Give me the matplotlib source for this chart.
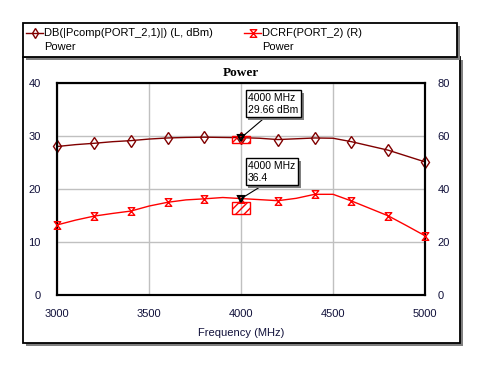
import numpy as np
import matplotlib
matplotlib.use("Agg")
import matplotlib.pyplot as plt
from matplotlib.path import Path
from matplotlib.patches import Rectangle
from matplotlib.lines import Line2D
import matplotlib.transforms as mtransforms
import matplotlib.patheffects as pe

# ---------------- data ----------------
freq_mhz = [3000, 3100, 3200, 3300, 3400, 3500, 3600, 3700, 3800, 3900, 4000,
            4100, 4200, 4300, 4400, 4500, 4600, 4700, 4800, 4900, 5000]
pcomp_dbm = [28.0, 28.35, 28.6, 28.9, 29.1, 29.4, 29.6, 29.7, 29.75, 29.7, 29.66,
             29.55, 29.3, 29.45, 29.6, 29.55, 28.9, 28.1, 27.3, 26.2, 25.1]
dcrf = [26.5, 28.3, 29.8, 30.8, 31.7, 33.6, 35.0, 35.9, 36.3, 36.8, 36.4,
        36.0, 35.6, 36.5, 38.0, 38.0, 35.5, 32.7, 29.9, 26.2, 22.4]
marker_freq = 4000
marker_pcomp = 29.66
marker_dcrf = 36.4
x_ticks = [3000, 3500, 4000, 4500, 5000]
yl_ticks = [0, 10, 20, 30, 40]
yr_ticks = [0, 20, 40, 60, 80]
legend_1 = "DB(|Pcomp(PORT_2,1)|) (L, dBm)"
legend_2 = "DCRF(PORT_2) (R)"
legend_sub = "Power"
title = "Power"
xlabel = "Frequency (MHz)"

DARK = "#800000"
RED = "#ff0000"
SANS = "Liberation Sans"
SERIF = "Liberation Serif"
TICKC = "#10103a"

W, H = 484, 368
fig = plt.figure(figsize=(W / 100, H / 100), dpi=100)

def fx(px):
    return px / W

def fy(py):
    return 1 - py / H

# outer boxes with shadow
def shadow_box(x0, y0, x1, y1, z):
    sh = Rectangle((fx(x0 + 3), fy(y1 + 3)), fx(x1 - x0), (y1 - y0) / H,
                   transform=fig.transFigure, facecolor="#808080", edgecolor="none", zorder=z)
    bx = Rectangle((fx(x0), fy(y1)), fx(x1 - x0), (y1 - y0) / H,
                   transform=fig.transFigure, facecolor="white", edgecolor="black",
                   linewidth=1.3, zorder=z + 0.1)
    fig.add_artist(sh)
    fig.add_artist(bx)

shadow_box(22.5, 57, 460, 343, 0)
shadow_box(22.5, 22.7, 457, 56.5, 0.5)

# hourglass marker
hourglass = Path([(-0.85, 1), (0.85, 1), (-0.85, -1), (0.85, -1), (-0.85, 1)],
                 [Path.MOVETO, Path.LINETO, Path.LINETO, Path.LINETO, Path.CLOSEPOLY])
MS = 5.5

# legend
for (x0, x1, col, mk, label) in [(26, 43, DARK, "d", legend_1),
                                 (244, 261, RED, hourglass, legend_2)]:
    fig.add_artist(Line2D([fx(x0), fx(x1)], [fy(33), fy(33)], transform=fig.transFigure,
                          color=col, lw=1, zorder=2))
    fig.add_artist(Line2D([fx((x0 + x1) / 2)], [fy(33)], transform=fig.transFigure,
                          color=col, marker=mk, ms=MS, mfc="none", mec=col, mew=1, zorder=2))
    fig.text(fx(x1 + 1.5), fy(33), label, fontsize=8, family=SANS, color="black",
             va="center", ha="left", zorder=3)
    fig.text(fx(x1 + 1.5), fy(47), legend_sub, fontsize=8, family=SANS, color="black",
             va="center", ha="left", zorder=3)

# axes
ax = fig.add_axes([fx(57.3), fy(295.3), fx(425 - 57.3), (295.3 - 82.7) / H], zorder=2)
ax.patch.set_alpha(0)
ax2 = ax.twinx()

ax.plot(freq_mhz, pcomp_dbm, color=DARK, lw=1, marker="d", ms=MS + 1, mfc="none",
        mec=DARK, mew=1, markevery=2, zorder=3, clip_on=False)
ax2.plot(freq_mhz, dcrf, color=RED, lw=1, marker=hourglass, ms=MS, mfc="none",
         mec=RED, mew=1, markevery=2, zorder=3, clip_on=False)

ax.set_xlim(3000, 5000)
ax.set_ylim(0, 40)
ax2.set_ylim(0, 80)
ax.set_xticks(x_ticks)
ax.set_yticks(yl_ticks)
ax2.set_yticks(yr_ticks)
ax.grid(True, color="#c0c0c0", lw=1)
ax.set_axisbelow(True)
for a in (ax, ax2):
    for s in a.spines.values():
        s.set_linewidth(1.5)
        s.set_color("black")
ax.tick_params(axis="both", length=0, labelsize=8, labelcolor=TICKC)
ax.tick_params(axis="y", pad=12)
ax.tick_params(axis="x", pad=10)
ax2.tick_params(axis="y", length=0, labelsize=8, labelcolor=TICKC, pad=9)
for lab in ax.get_xticklabels() + ax.get_yticklabels() + ax2.get_yticklabels():
    lab.set_family(SANS)

ax.set_title(title, fontsize=9.5, family=SERIF, fontweight="bold", pad=5)
ax.set_xlabel(xlabel, fontsize=8, family=SANS, color=TICKC, labelpad=6)

# marker indicators
plt.rcParams["hatch.linewidth"] = 1.0
def hatched(axis, xv, yv, color, top_px, h_px):
    tr = mtransforms.Affine2D() + mtransforms.ScaledTranslation(xv, yv, axis.transData)
    r = Rectangle((-9, -top_px - h_px), 18, h_px, transform=tr, facecolor="none",
                  edgecolor=color, hatch="////", lw=1, zorder=5, clip_on=False)
    axis.add_patch(r)
    axis.plot([xv], [yv], marker="v", ms=4.5, mfc="none", mec="black", mew=1.5,
              zorder=6, clip_on=False)

hatched(ax, marker_freq, marker_pcomp, RED, -2, 7)
hatched(ax2, marker_freq, marker_dcrf, RED, 3, 12)

def note(axis, xv, yv, text, dx, dy):
    a = axis.annotate(text, xy=(xv, yv), xytext=(dx, dy), textcoords="offset pixels",
                      fontsize=7.5, family=SANS, color="black", ha="left", va="bottom",
                      linespacing=1.25,
                      bbox=dict(boxstyle="square,pad=0.25", fc="white", ec="black", lw=1),
                      arrowprops=dict(arrowstyle="-", color="black", lw=0.8,
                                      relpos=(0.4, 0), shrinkA=0, shrinkB=0),
                      zorder=7, annotation_clip=False)
    a.get_bbox_patch().set_path_effects([pe.SimplePatchShadow(offset=(2, -2),
                                                              shadow_rgbFace="#808080", alpha=1),
                                         pe.Normal()])

note(ax, marker_freq, marker_pcomp, f"{marker_freq} MHz\n{marker_pcomp} dBm", 7, 23)
note(ax2, marker_freq, marker_dcrf, f"{marker_freq} MHz\n{marker_dcrf}", 7, 16)

fig.savefig("out.png", dpi=100)
